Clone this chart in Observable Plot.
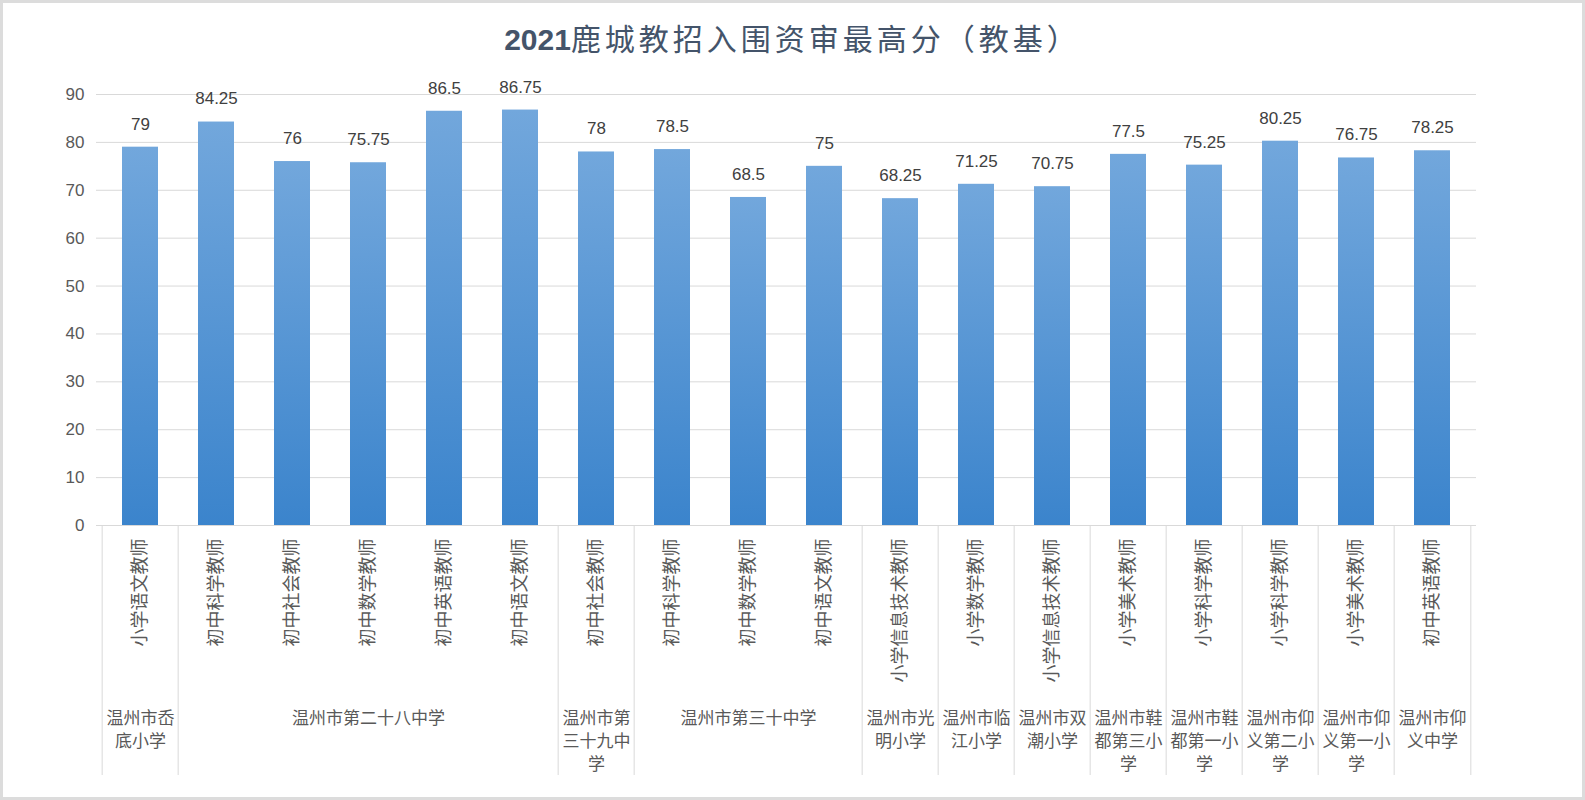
<!DOCTYPE html>
<html>
<head>
<meta charset="utf-8">
<script src="https://cdn.jsdelivr.net/npm/d3@7"></script>
<script src="https://cdn.jsdelivr.net/npm/@observablehq/plot@0.6"></script>
<style>
html, body { margin: 0; padding: 0; background: #ffffff; }
#wrap { position: relative; width: 1585px; height: 800px; overflow: hidden; background: #fff; }
#title { position: absolute; left: 0; top: 6px; width: 1585px; height: 62px; line-height: 62px; text-align: center;
  font-family: "Noto Sans CJK SC", sans-serif; font-size: 30px; color: #44546A; letter-spacing: 4px; white-space: nowrap; }
#title b { font-family: "Liberation Sans", "Noto Sans CJK SC", sans-serif; font-weight: bold; letter-spacing: 0; }
#chart { position: absolute; left: 0; top: 62px; }
#frame { position: absolute; left: 0; top: 0; width: 1585px; height: 800px; box-sizing: border-box;
  border: 3px solid #dcdcdc; pointer-events: none; }
</style>
</head>
<body>
<div id="wrap">
  <div id="title"><b>2021</b>鹿城教招入围资审最高分（教基）</div>
  <div id="chart"></div>
  <div id="frame"></div>
</div>
<script>
// ---- data ----
const positions = ["小学语文教师","初中科学教师","初中社会教师","初中数学教师","初中英语教师","初中语文教师",
  "初中社会教师","初中科学教师","初中数学教师","初中语文教师","小学信息技术教师","小学数学教师",
  "小学信息技术教师","小学美术教师","小学科学教师","小学科学教师","小学美术教师","初中英语教师"];
const scores = [79, 84.25, 76, 75.75, 86.5, 86.75, 78, 78.5, 68.5, 75, 68.25, 71.25, 70.75, 77.5, 75.25, 80.25, 76.75, 78.25];
const schools = ["温州市岙底小学","温州市第二十八中学","温州市第三十九中学","温州市第三十中学","温州市光明小学",
  "温州市临江小学","温州市双潮小学","温州市鞋都第三小学","温州市鞋都第一小学","温州市仰义第二小学",
  "温州市仰义第一小学","温州市仰义中学"];
const schoolSizes = [1, 5, 1, 3, 1, 1, 1, 1, 1, 1, 1, 1];
const yTicks = [0, 10, 20, 30, 40, 50, 60, 70, 80, 90];

// ---- derived tables ----
const rows = positions.map((p, i) => ({i, pos: p, score: scores[i]}));
function wrapLabel(name, span) {
  if (span > 1) return name;
  const out = [];
  for (let k = 0; k < name.length; k += 4) out.push(name.slice(k, k + 4));
  return out.join("\n");
}
let start = 0;
const groups = schools.map((s, g) => {
  const n = schoolSizes[g];
  const grp = {start, end: start + n - 1, mid: start + (n - 1) / 2, label: wrapLabel(s, n)};
  start += n;
  return grp;
});

const W = 1585, H = 738, ML = 96, MR = 109, MT = 32, MB = 275;
const step = (W - ML - MR) / rows.length;
const cjk = "Noto Sans CJK SC";
const num = "Liberation Sans";

const plot = Plot.plot({
  width: W,
  height: H,
  marginLeft: ML,
  marginRight: MR,
  marginTop: MT,
  marginBottom: MB,
  style: {background: "transparent", fontFamily: cjk},
  x: {type: "band", domain: rows.map(d => d.i), paddingInner: 0.52, paddingOuter: 0.26, axis: null},
  y: {domain: [0, 90], axis: null},
  marks: [
    Plot.gridY(yTicks, {stroke: "#d9d9d9", strokeOpacity: 1, strokeWidth: 1}),
    Plot.axisY(yTicks, {tickSize: 0, tickPadding: 12, fontSize: 17, fill: "#595959", fontFamily: num, label: null, tickFormat: d => String(d)}),
    Plot.barY(rows, {x: "i", y: "score", fill: "url(#barGrad)"}),
    Plot.ruleY([0], {stroke: "#d9d9d9", strokeWidth: 1}),
    // group separators (category-axis boundaries)
    Plot.ruleX(groups, {x: "start", y1: 0, y2: 0, insetBottom: -250, dx: -step / 2, stroke: "#d9d9d9", strokeWidth: 1}),
    Plot.ruleX([rows[rows.length - 1]], {x: "i", y1: 0, y2: 0, insetBottom: -250, dx: step / 2, stroke: "#d9d9d9", strokeWidth: 1}),
    // value labels
    Plot.text(rows, {x: "i", y: "score", text: d => String(d.score), dy: -23, fontSize: 17, fill: "#404040", fontFamily: num}),
    // position labels (vertical)
    Plot.text(rows, {x: "i", y: 0, text: "pos", rotate: -90, textAnchor: "end", dy: 13, fontSize: 18, fill: "#595959"}),
    // school labels
    Plot.text(groups, {x: "mid", y: 0, text: "label", lineAnchor: "top", dy: 182, fontSize: 17, lineHeight: 1.35, fill: "#595959"})
  ]
});

// bar gradient
const defs = d3.create("svg:defs");
const grad = defs.append("linearGradient").attr("id", "barGrad").attr("x1", 0).attr("y1", 0).attr("x2", 0).attr("y2", 1);
grad.append("stop").attr("offset", "0%").attr("stop-color", "#72a7dc");
grad.append("stop").attr("offset", "100%").attr("stop-color", "#3b84cc");
plot.insertBefore(defs.node(), plot.firstChild);

document.getElementById("chart").appendChild(plot);
</script>
</body>
</html>
